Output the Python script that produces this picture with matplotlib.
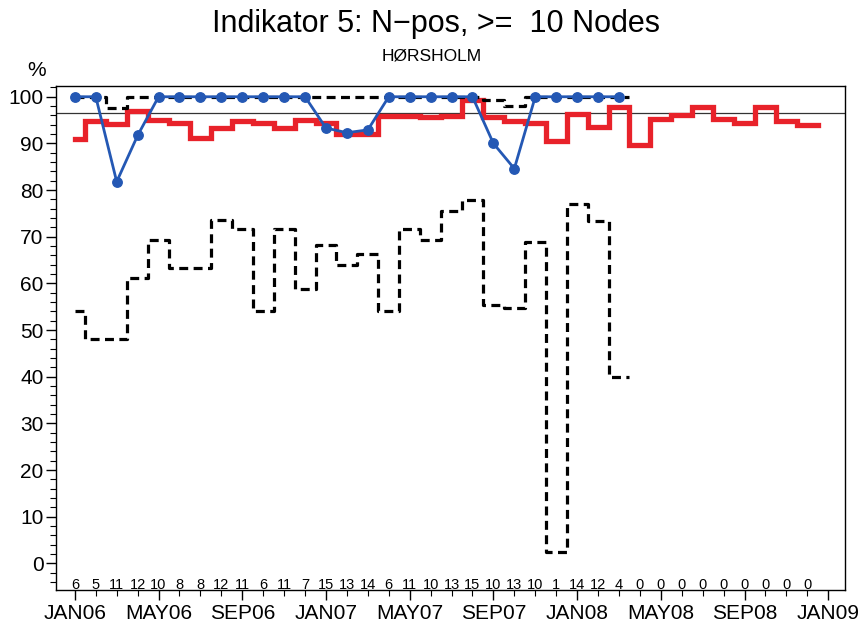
import numpy as np
import matplotlib.pyplot as plt
from matplotlib.ticker import MultipleLocator

# Data (one value per month, JAN06..DEC08)
months = np.arange(36)
tick_pos = np.arange(0, 37, 4)
tick_labels = ['JAN06', 'MAY06', 'SEP06', 'JAN07', 'MAY07', 'SEP07',
               'JAN08', 'MAY08', 'SEP08', 'JAN09']

counts = [6, 5, 11, 12, 10, 8, 8, 12, 11, 6, 11, 7,
          15, 13, 14, 6, 11, 10, 13, 15, 10, 13, 10, 1,
          14, 12, 4, 0, 0, 0, 0, 0, 0, 0, 0, 0]

# red: national average (thick step line)
national = [90.9, 94.9, 94.2, 96.9, 95.1, 94.3, 91.1, 93.2, 94.7, 94.3, 93.2, 95.1,
            94.4, 92.0, 92.1, 95.9, 95.9, 95.7, 95.8, 99.4, 95.6, 94.7, 94.3, 90.6,
            96.2, 93.5, 97.8, 89.6, 95.2, 96.1, 97.7, 95.2, 94.3, 97.7, 94.7, 93.9]

# blue: monthly value for the unit (only months with patients)
unit = [100, 100, 81.8, 91.7, 100, 100, 100, 100, 100, 100, 100, 100,
        93.3, 92.3, 92.9, 100, 100, 100, 100, 100, 90.0, 84.6, 100, 100,
        100, 100, 100]

# black dashed, upper and lower limits
upper = [100, 100, 97.5, 100, 100, 100, 100, 100, 100, 100, 100, 100,
         100, 100, 100, 100, 100, 100, 100, 100, 99.2, 98.0, 100, 100,
         100, 100, 100]
lower = [54.1, 48.0, 48.0, 61.1, 69.2, 63.2, 63.2, 73.6, 71.6, 54.1, 71.6, 58.9,
         68.2, 63.9, 66.2, 54.1, 71.6, 69.2, 75.5, 77.9, 55.4, 54.7, 68.9, 2.5,
         77.0, 73.4, 39.9]

standard = 96.6

red = '#e8222a'
blue = '#2458b4'

plt.rcParams['font.family'] = ['Liberation Sans', 'DejaVu Sans']

fig = plt.figure(figsize=(8.59, 6.27), dpi=100)
ax = fig.add_axes([0.0652, 0.059, 0.9185, 0.8038])


def step_ext(vals):
    # last step runs half a month past the last point
    x = list(range(len(vals))) + [len(vals) - 0.5]
    return x, list(vals) + [vals[-1]]


ax.axhline(standard, color='#333333', lw=0.9, zorder=1)

xr, yr = step_ext(national)
ax.plot(xr, yr, drawstyle='steps-mid', color=red, lw=3.8, zorder=2,
        solid_joinstyle='miter')

dash = (0, (2.8, 1.7))
xu, yu = step_ext(upper)
ax.plot(xu, yu, drawstyle='steps-mid', color='black', lw=2.3, ls=dash, zorder=3)
xl, yl = step_ext(lower)
ax.plot(xl, yl, drawstyle='steps-mid', color='black', lw=2.3, ls=dash, zorder=3)

ax.plot(months[:len(unit)], unit, color=blue, lw=2.0, marker='o', ms=6.8,
        mfc=blue, mec=blue, zorder=4)

for m, c in zip(months, counts):
    ax.text(m, -4.6, str(c), ha='center', va='center', fontsize=10.5)

ax.set_xlim(-0.9, 36.8)
ax.set_ylim(-5.7, 102.3)
ax.set_xticks(tick_pos)
ax.set_xticklabels(tick_labels, fontsize=15)
ax.xaxis.set_minor_locator(MultipleLocator(1))
ax.set_yticks(np.arange(0, 101, 10))
ax.yaxis.set_minor_locator(MultipleLocator(2))
ax.tick_params(axis='y', labelsize=15, length=7, width=1, pad=2)
ax.tick_params(axis='x', length=7, width=1, pad=3)
ax.tick_params(which='minor', length=4, width=0.8)
for s in ax.spines.values():
    s.set_linewidth(1.0)

fig.text(0.043, 0.888, '%', fontsize=15, ha='center', va='center')
fig.text(0.508, 0.962, 'Indikator 5: N\u2212pos, >=  10 Nodes', fontsize=22,
         ha='center', va='center')
fig.text(0.502, 0.911, 'HØRSHOLM', fontsize=12.5, ha='center', va='center')

fig.savefig('out.png', dpi=100)
